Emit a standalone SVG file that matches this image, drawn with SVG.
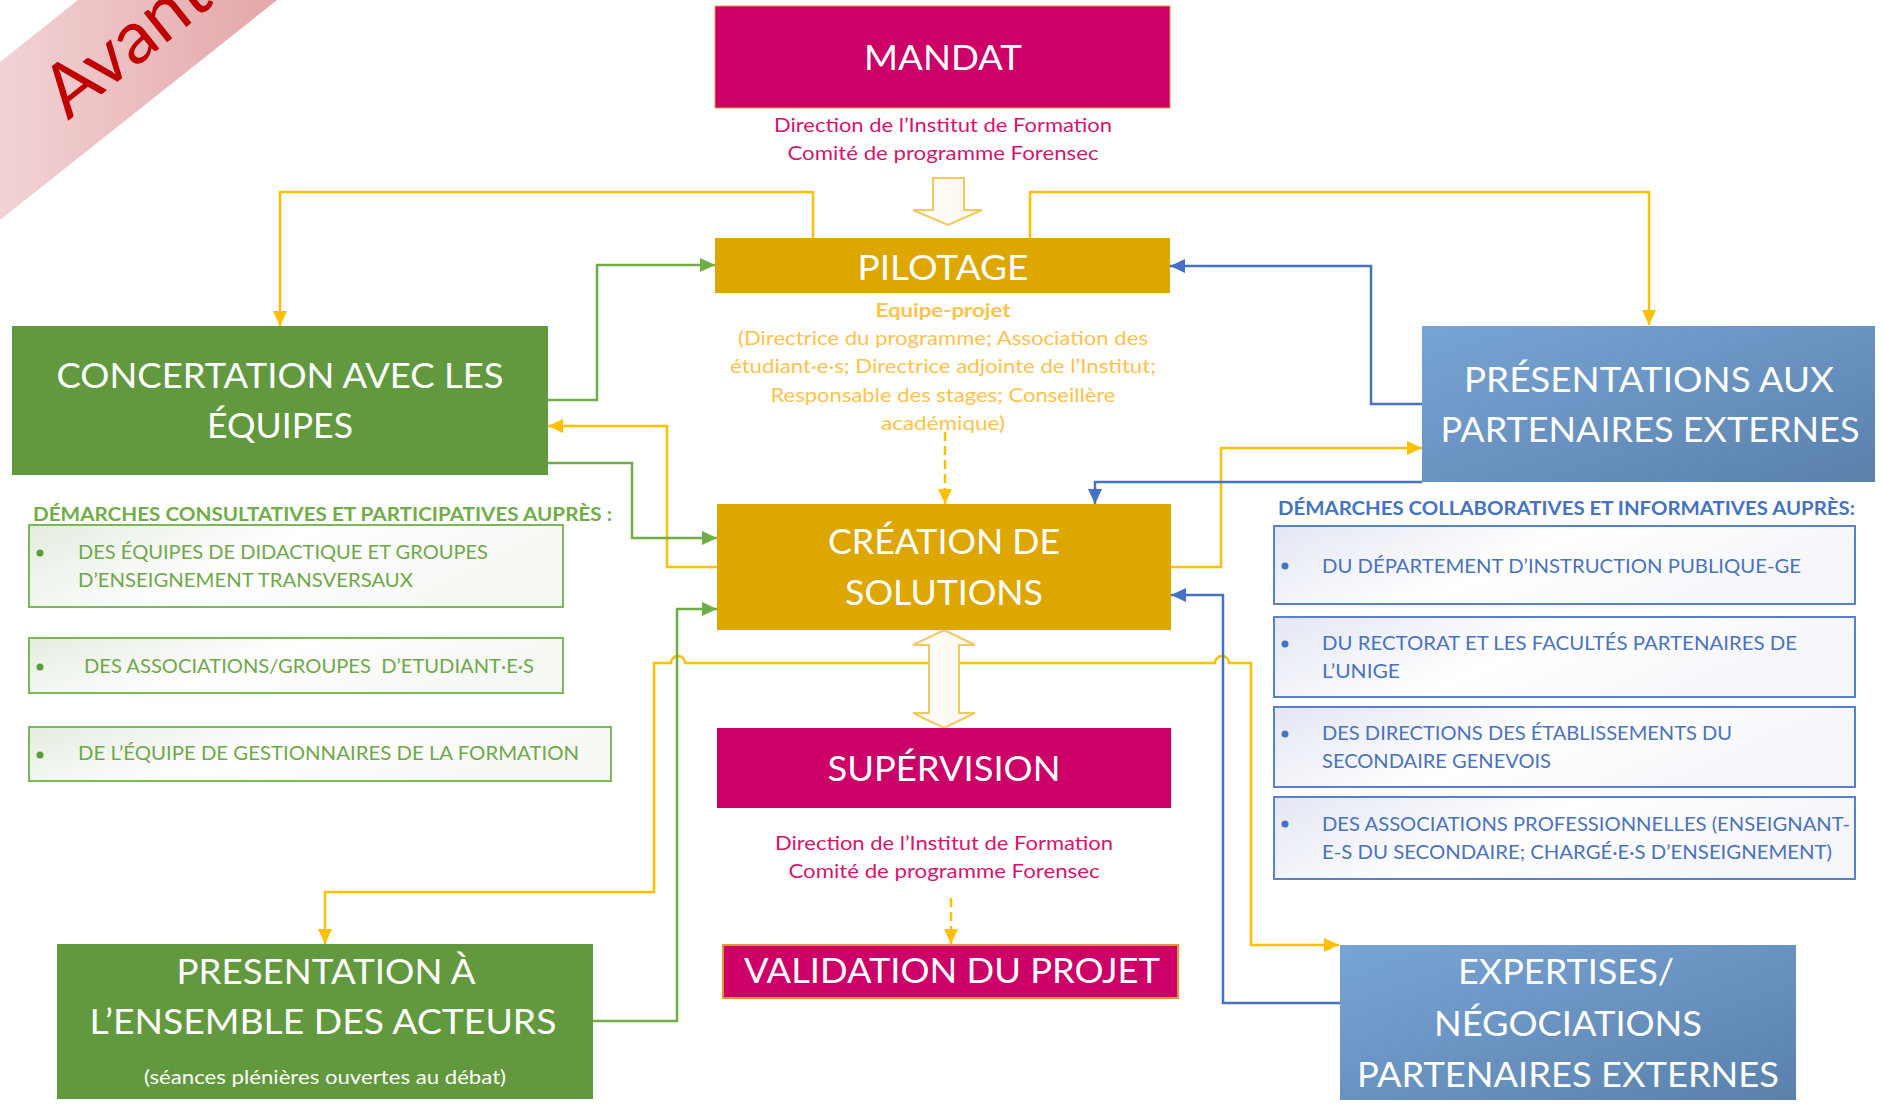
<svg xmlns="http://www.w3.org/2000/svg" width="1883" height="1111" viewBox="0 0 1883 1111">
<defs>
  <linearGradient id="gBanner" x1="0" y1="0" x2="1" y2="0">
    <stop offset="0" stop-color="#F2D3D5"/><stop offset="1" stop-color="#E4A6A9"/>
  </linearGradient>
  <linearGradient id="gBlue" x1="0" y1="0" x2="1" y2="1">
    <stop offset="0" stop-color="#78A4D5"/><stop offset="1" stop-color="#5A81AC"/>
  </linearGradient>
  <linearGradient id="gGreenList" x1="0" y1="0" x2="1" y2="0.3">
    <stop offset="0" stop-color="#E4ECE0"/><stop offset="0.5" stop-color="#FFFFFF"/><stop offset="1" stop-color="#F5F8F3"/>
  </linearGradient>
  <linearGradient id="gBlueList" x1="0" y1="0" x2="1" y2="0.3">
    <stop offset="0" stop-color="#E3E7F3"/><stop offset="0.5" stop-color="#FFFFFF"/><stop offset="1" stop-color="#F4F6FA"/>
  </linearGradient>
  <linearGradient id="gHollow" x1="0" y1="0" x2="1" y2="0">
    <stop offset="0" stop-color="#FFFFFF"/><stop offset="1" stop-color="#FBF6EA"/>
  </linearGradient>
  <marker id="aY" markerUnits="userSpaceOnUse" markerWidth="15" markerHeight="14" refX="15" refY="7" orient="auto-start-reverse"><path d="M0,0 L15,7 L0,14 z" fill="#FFC000"/></marker>
  <marker id="aG" markerUnits="userSpaceOnUse" markerWidth="15" markerHeight="14" refX="15" refY="7" orient="auto"><path d="M0,0 L15,7 L0,14 z" fill="#70AD47"/></marker>
  <marker id="aB" markerUnits="userSpaceOnUse" markerWidth="15" markerHeight="14" refX="15" refY="7" orient="auto"><path d="M0,0 L15,7 L0,14 z" fill="#4472C4"/></marker>
</defs>
<style>
  text { font-family: Lato, "Open Sans", "Liberation Sans", sans-serif; }
  .big { fill: #FFFFFF; font-size: 35px; text-anchor: middle; }
  .sub { fill: #D8136E; font-size: 19px; text-anchor: middle; }
  .pil { fill: #FFC24A; font-size: 19px; text-anchor: middle; }
  .glist { fill: #6FA84A; font-size: 19.5px; }
  .blist { fill: #4A72BE; font-size: 19.5px; }
  .ghead { fill: #70AD47; font-size: 18.5px; font-weight: bold; }
  .bhead { fill: #4472C4; font-size: 18.5px; font-weight: bold; }
  .mag { fill: #CC0066; }
  .gold { fill: #DDA700; }
  .grn { fill: #62993E; }
  .lnY { fill: none; stroke: #FFC000; stroke-width: 2.5; }
  .lnG { fill: none; stroke: #70AD47; stroke-width: 2.5; }
  .lnB { fill: none; stroke: #4472C4; stroke-width: 2.5; }
  .gbox { fill: url(#gGreenList); stroke: #7DB858; stroke-width: 2; }
  .bbox { fill: url(#gBlueList); stroke: #5B80C8; stroke-width: 2; }
  .hollow { fill: url(#gHollow); stroke: #F3C85E; stroke-width: 2; }
</style>
<rect width="1883" height="1111" fill="#FFFFFF"/>

<!-- banner -->
<g id="banner">
  <polygon points="0,62 78,0 277,0 0,220" fill="url(#gBanner)"/>
  <text transform="translate(68,121) rotate(-38.5)" font-size="74" fill="#C00000" style="font-family: Lato, 'Open Sans', sans-serif;">Avant</text>
</g>

<!-- connectors -->
<g id="connectors">
  <path class="lnY" d="M813,238 V192 H280 V326" marker-end="url(#aY)"/>
  <path class="lnY" d="M1030,238 V192 H1649 V325" marker-end="url(#aY)"/>
  <path class="lnY" d="M717,567 H667 V426 H548" marker-end="url(#aY)"/>
  <path class="lnY" d="M1171,567 H1221 V448 H1422" marker-end="url(#aY)"/>
  <path class="lnY" d="M325,944 V892 H654 V663 H671 A7,7 0 0 1 685,663 H1215 A7,7 0 0 1 1229,663 H1251 V945 H1339" marker-start="url(#aY)" marker-end="url(#aY)"/>
  <path class="lnY" d="M945,432 V504" stroke-dasharray="9,5" marker-end="url(#aY)"/>
  <path class="lnY" d="M951,898 V944" stroke-dasharray="9,5" marker-end="url(#aY)"/>
  <path class="lnG" d="M548,400 H597 V265 H715" marker-end="url(#aG)"/>
  <path class="lnG" d="M548,463 H632 V538 H717" marker-end="url(#aG)"/>
  <path class="lnG" d="M593,1021 H677 V609 H717" marker-end="url(#aG)"/>
  <path class="lnB" d="M1422,404 H1371 V266 H1170" marker-end="url(#aB)"/>
  <path class="lnB" d="M1422,482 H1095 V504" marker-end="url(#aB)"/>
  <path class="lnB" d="M1340,1003 H1223 V595 H1171" marker-end="url(#aB)"/>
  <polygon class="hollow" points="933,178 964,178 964,210 982,210 948,225 913,210 933,210"/>
  <polygon class="hollow" points="944,630 975,645 959,645 959,713 975,713 944,728 913,713 929,713 929,645 913,645"/>
</g>

<g id="mandat">
  <rect class="mag" x="715" y="6" width="455" height="102" stroke="#E2A04A" stroke-width="1"/>
  <text class="big" x="943" y="70" font-size="37" textLength="158" lengthAdjust="spacingAndGlyphs">MANDAT</text>
  <text class="sub" x="943" y="132" textLength="338" lengthAdjust="spacingAndGlyphs">Direction de l’Institut de Formation</text>
  <text class="sub" x="943" y="160" textLength="311" lengthAdjust="spacingAndGlyphs">Comité de programme Forensec</text>
</g>

<g id="pilotage">
  <rect class="gold" x="715" y="238" width="455" height="55"/>
  <text class="big" x="943" y="280" font-size="36" textLength="171" lengthAdjust="spacingAndGlyphs">PILOTAGE</text>
  <text class="pil" x="943" y="317" font-weight="bold" fill="#FFC000" textLength="135" lengthAdjust="spacingAndGlyphs">Equipe-projet</text>
  <text class="pil" x="943" y="345" textLength="410" lengthAdjust="spacingAndGlyphs">(Directrice du programme; Association des</text>
  <text class="pil" x="943" y="373" textLength="426" lengthAdjust="spacingAndGlyphs">étudiant·e·s; Directrice adjointe de l’Institut;</text>
  <text class="pil" x="943" y="402" textLength="345" lengthAdjust="spacingAndGlyphs">Responsable des stages; Conseillère</text>
  <text class="pil" x="943" y="430" textLength="124" lengthAdjust="spacingAndGlyphs">académique)</text>
</g>

<g id="concertation">
  <rect class="grn" x="12" y="326" width="536" height="149"/>
  <text class="big" x="280" y="388" textLength="447" lengthAdjust="spacingAndGlyphs">CONCERTATION AVEC LES</text>
  <text class="big" x="280" y="438" textLength="146" lengthAdjust="spacingAndGlyphs">ÉQUIPES</text>
</g>

<g id="demarches-consultatives">
  <text class="ghead" x="33" y="521" textLength="579" lengthAdjust="spacingAndGlyphs">DÉMARCHES CONSULTATIVES ET PARTICIPATIVES AUPRÈS :</text>
  <rect class="gbox" x="29" y="525" width="534" height="82"/>
  <circle cx="40" cy="553" r="3.5" fill="#5E9A3A"/>
  <text class="glist" x="78" y="559" textLength="410" lengthAdjust="spacingAndGlyphs">DES ÉQUIPES DE DIDACTIQUE ET GROUPES</text>
  <text class="glist" x="78" y="587" textLength="335" lengthAdjust="spacingAndGlyphs">D’ENSEIGNEMENT TRANSVERSAUX</text>
  <rect class="gbox" x="29" y="638" width="534" height="55"/>
  <circle cx="40" cy="667" r="3.5" fill="#5E9A3A"/>
  <text class="glist" x="84" y="673" textLength="450" lengthAdjust="spacingAndGlyphs">DES ASSOCIATIONS/GROUPES&#160; D’ETUDIANT·E·S</text>
  <rect class="gbox" x="29" y="727" width="582" height="54"/>
  <circle cx="40" cy="755" r="3.5" fill="#5E9A3A"/>
  <text class="glist" x="78" y="760" textLength="501" lengthAdjust="spacingAndGlyphs">DE L’ÉQUIPE DE GESTIONNAIRES DE LA FORMATION</text>
</g>

<g id="creation">
  <rect class="gold" x="717" y="504" width="454" height="126"/>
  <text class="big" x="944" y="554" textLength="232" lengthAdjust="spacingAndGlyphs">CRÉATION DE</text>
  <text class="big" x="944" y="605" textLength="198" lengthAdjust="spacingAndGlyphs">SOLUTIONS</text>
</g>

<g id="supervision">
  <rect class="mag" x="717" y="728" width="454" height="80"/>
  <text class="big" x="944" y="781" textLength="233" lengthAdjust="spacingAndGlyphs">SUPÉRVISION</text>
  <text class="sub" x="944" y="850" textLength="338" lengthAdjust="spacingAndGlyphs">Direction de l’Institut de Formation</text>
  <text class="sub" x="944" y="878" textLength="311" lengthAdjust="spacingAndGlyphs">Comité de programme Forensec</text>
</g>

<g id="validation">
  <rect class="mag" x="723" y="945" width="455" height="53" stroke="#E8913A" stroke-width="2"/>
  <text class="big" x="952" y="983" textLength="416" lengthAdjust="spacingAndGlyphs">VALIDATION DU PROJET</text>
</g>

<g id="presentations-partenaires">
  <rect x="1422" y="326" width="453" height="156" fill="url(#gBlue)"/>
  <text class="big" x="1649" y="392" fill="#F4F4F4" textLength="370" lengthAdjust="spacingAndGlyphs">PRÉSENTATIONS AUX</text>
  <text class="big" x="1650" y="442" fill="#F4F4F4" textLength="419" lengthAdjust="spacingAndGlyphs">PARTENAIRES EXTERNES</text>
</g>

<g id="demarches-collaboratives">
  <text class="bhead" x="1278" y="515" textLength="577" lengthAdjust="spacingAndGlyphs">DÉMARCHES COLLABORATIVES ET INFORMATIVES AUPRÈS:</text>
  <rect class="bbox" x="1274" y="526" width="581" height="78"/>
  <circle cx="1285" cy="566" r="3.5" fill="#4472C4"/>
  <text class="blist" x="1322" y="573" textLength="479" lengthAdjust="spacingAndGlyphs">DU DÉPARTEMENT D’INSTRUCTION PUBLIQUE-GE</text>
  <rect class="bbox" x="1274" y="617" width="581" height="80"/>
  <circle cx="1285" cy="644" r="3.5" fill="#4472C4"/>
  <text class="blist" x="1322" y="650" textLength="475" lengthAdjust="spacingAndGlyphs">DU RECTORAT ET LES FACULTÉS PARTENAIRES DE</text>
  <text class="blist" x="1322" y="678" textLength="78" lengthAdjust="spacingAndGlyphs">L’UNIGE</text>
  <rect class="bbox" x="1274" y="707" width="581" height="80"/>
  <circle cx="1285" cy="734" r="3.5" fill="#4472C4"/>
  <text class="blist" x="1322" y="740" textLength="410" lengthAdjust="spacingAndGlyphs">DES DIRECTIONS DES ÉTABLISSEMENTS DU</text>
  <text class="blist" x="1322" y="768" textLength="229" lengthAdjust="spacingAndGlyphs">SECONDAIRE GENEVOIS</text>
  <rect class="bbox" x="1274" y="797" width="581" height="82"/>
  <circle cx="1285" cy="824" r="3.5" fill="#4472C4"/>
  <text class="blist" x="1322" y="831" textLength="528" lengthAdjust="spacingAndGlyphs">DES ASSOCIATIONS PROFESSIONNELLES (ENSEIGNANT-</text>
  <text class="blist" x="1322" y="859" textLength="510" lengthAdjust="spacingAndGlyphs">E-S DU SECONDAIRE; CHARGÉ·E·S D’ENSEIGNEMENT)</text>
</g>

<g id="presentation-acteurs">
  <rect class="grn" x="57" y="944" width="536" height="155"/>
  <text class="big" x="326" y="984" textLength="299" lengthAdjust="spacingAndGlyphs">PRESENTATION À</text>
  <text class="big" x="323" y="1034" textLength="467" lengthAdjust="spacingAndGlyphs">L’ENSEMBLE DES ACTEURS</text>
  <text x="325" y="1084" fill="#FFFFFF" font-size="19" text-anchor="middle" textLength="362" lengthAdjust="spacingAndGlyphs">(séances plénières ouvertes au débat)</text>
</g>

<g id="expertises">
  <rect x="1340" y="945" width="456" height="155" fill="url(#gBlue)"/>
  <text class="big" x="1566" y="984" fill="#F4F4F4" textLength="216" lengthAdjust="spacingAndGlyphs">EXPERTISES/</text>
  <text class="big" x="1568" y="1036" fill="#F4F4F4" textLength="268" lengthAdjust="spacingAndGlyphs">NÉGOCIATIONS</text>
  <text class="big" x="1568" y="1087" fill="#F4F4F4" textLength="422" lengthAdjust="spacingAndGlyphs">PARTENAIRES EXTERNES</text>
</g>
</svg>
